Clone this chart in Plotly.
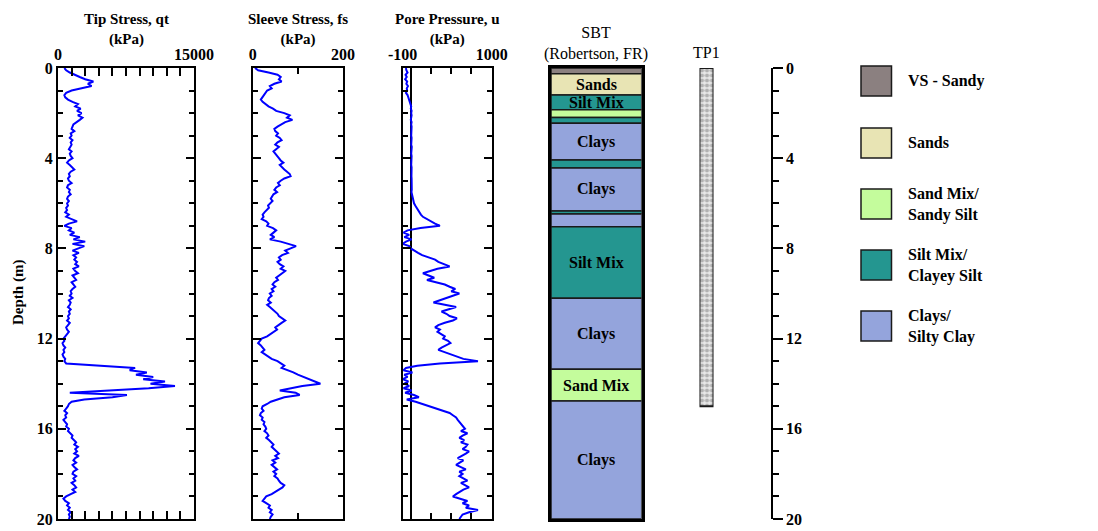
import plotly.graph_objects as go

# ---------------- data ----------------
depth = [round(i * 0.1, 1) for i in range(201)]

tip_stress = [
    700, 900, 1300, 1800, 2400, 3000, 3900, 3300, 3700, 2600,
    1500, 900, 700, 800, 1100, 1600, 2200, 1900, 2500, 2100,
    2600, 2200, 2700, 2400, 2000, 1700, 1600, 1500, 1800, 1400,
    1500, 1300, 1600, 1400, 1500, 1300, 1200, 1500, 1300, 1400,
    1600, 1200, 1000, 1300, 1500, 1800, 1400, 1200, 1300, 1100,
    1200, 1500, 1100, 1000, 1300, 1200, 1400, 1100, 1000, 1200,
    1000, 1100, 900, 1000, 800, 1200, 900, 1500, 2100, 1200,
    700, 1500, 1200, 1800, 1300, 2400, 1700, 3000, 1600, 2900,
    2200, 1600, 2300, 1700, 2000, 1800, 2100, 1900, 2300, 1700,
    1900, 2200, 1600, 1800, 2000, 1500, 1700, 1900, 1600, 1400,
    1500, 1300, 1600, 1200, 1400, 1300, 1100, 1400, 1200, 1300,
    1100, 1200, 1000, 1300, 1100, 900, 1000, 1200, 1000, 800,
    600, 700, 500, 600, 800, 600, 700, 500, 600, 800,
    700, 900, 4500, 8500, 7900, 9800, 8600, 10500, 9400, 11800,
    10200, 12900, 10000, 5200, 1300, 7600, 6000, 2900, 1500, 1200,
    1100, 900, 700, 1000, 800, 900, 600, 800, 1000, 900,
    1200, 1100, 1400, 1600, 1500, 1700, 2000, 1800, 2200, 1900,
    2100, 1800, 2300, 1900, 1700, 2000, 1600, 1800, 2100, 1700,
    1600, 2000, 1700, 1900, 1500, 1800, 2000, 1600, 1900, 1400,
    900, 600, 800, 1200, 1000, 1300, 1100, 1400, 1200, 1300,
    1200,
]

sleeve_stress = [
    5, 12, 35, 55, 62, 58, 64, 48, 38, 42,
    32, 28, 25, 20, 18, 22, 28, 35, 45, 52,
    70, 82, 76, 88, 72, 62, 55, 48, 50, 56,
    52, 60, 64, 55, 50, 58, 52, 46, 50, 55,
    58, 62, 68, 60, 64, 70, 76, 82, 84, 70,
    62, 56, 60, 52, 48, 54, 46, 42, 40, 44,
    38, 34, 36, 30, 26, 22, 24, 20, 30, 35,
    32, 45, 52, 46, 40, 48, 38, 62, 80, 96,
    84, 72, 78, 65, 58, 62, 55, 60, 68, 62,
    72, 66, 58, 52, 56, 48, 44, 50, 42, 46,
    38, 42, 36, 34, 40, 32, 38, 44, 50, 55,
    58, 66, 72, 64, 56, 50, 54, 46, 40, 32,
    20, 15, 12, 18, 22, 26, 20, 28, 35, 42,
    55, 62, 70, 64, 78, 90, 100, 112, 125, 140,
    150, 110, 82, 60, 95, 104, 70, 52, 40, 32,
    22, 20, 24, 18, 16, 22, 20, 26, 24, 28,
    30, 26, 32, 35, 30, 36, 40, 46, 42, 48,
    52, 58, 50, 56, 44, 50, 42, 48, 54, 46,
    52, 48, 55, 58, 62, 70, 66, 58, 50, 42,
    30, 26, 22, 30, 38, 35, 42, 38, 44, 40,
    38,
]

pore_pressure = [
    -60, -55, -40, -65, -50, -70, -45, -55, -35, -50,
    -45, -60, -40, -30, -20, -10, 0, 5, 0, 10,
    5, 10, 5, 0, 10, 5, 10, 8, 5, 10,
    5, 10, 8, 10, 5, 12, 8, 10, 5, 10,
    8, 10, 12, 5, 10, 8, 12, 10, 8, 10,
    12, 10, 15, 10, 12, 8, 15, 20, 25, 30,
    40, 55, 70, 90, 110, 125, 150, 200, 240, 300,
    360, 120, -40, -90, -20, -80, 10, -60, -100, -20,
    0, 40, 90, 140, 230, 300, 340, 420, 480, 330,
    250, 150, 220, 290, 200, 320, 420, 480, 550, 500,
    600, 520, 430, 350, 280, 420, 560, 470, 380, 440,
    480, 570, 520, 420, 340, 300, 360, 330, 380, 420,
    400, 460, 490, 430, 380, 340, 420, 510, 580, 650,
    830, 360, 80, -60, -90, 20, -80, -40, -100, -30,
    -80, -20, -90, 10, -70, 40, 100, -50, 60, 150,
    240, 330, 420, 480, 520, 560, 580, 600, 620, 650,
    670, 620, 700, 640, 600, 660, 620, 700, 680, 640,
    720, 680, 620, 580, 650, 600, 560, 620, 680, 600,
    640, 600, 660, 700, 620, 680, 720, 650, 600, 560,
    520, 600, 700, 640, 720, 680, 830, 720, 640, 620,
    600,
]

sbt_top = [0, 0.25, 1.2, 1.85, 2.2, 2.45, 4.08, 4.43, 6.34, 6.47, 7.04, 10.21, 13.36, 14.77]
sbt_bottom = [0.25, 1.2, 1.85, 2.2, 2.45, 4.08, 4.43, 6.34, 6.47, 7.04, 10.21, 13.36, 14.77, 20]
sbt_class = ["VS", "Sands", "SiltMix", "SandMix", "SiltMix", "Clays", "SiltMix", "Clays",
             "SiltMix", "Clays", "SiltMix", "Clays", "SandMix", "Clays"]
sbt_label = ["", "Sands", "Silt Mix", "", "", "Clays", "", "Clays", "", "", "Silt Mix",
             "Clays", "Sand Mix", "Clays"]

class_keys = ["VS", "Sands", "SandMix", "SiltMix", "Clays"]
class_names = ["VS - Sandy", "Sands", "Sand Mix/<br>Sandy Silt", "Silt Mix/<br>Clayey Silt",
               "Clays/<br>Silty Clay"]
class_colors = ["#8b8080", "#e8e4b4", "#c4fc9c", "#249690", "#94a4dc"]

tp1_top = [0]
tp1_bottom = [15.0]

# ---------------- layout helpers ----------------
W, H = 1098, 531
FONT = "Liberation Serif"


def px(x):
    return x / W


def py(y):
    return 1 - y / H


color_of = dict(zip(class_keys, class_colors))
ydom = [py(519), py(68)]

fig = go.Figure()

line_style = dict(color="#0000ff", width=2)
fig.add_trace(go.Scatter(x=tip_stress, y=depth, mode="lines", line=line_style,
                         xaxis="x", yaxis="y", showlegend=False))
fig.add_trace(go.Scatter(x=sleeve_stress, y=depth, mode="lines", line=line_style,
                         xaxis="x2", yaxis="y2", showlegend=False))
fig.add_trace(go.Scatter(x=pore_pressure, y=depth, mode="lines", line=line_style,
                         xaxis="x3", yaxis="y3", showlegend=False))

# SBT column
fig.add_trace(go.Bar(
    x=[0.5] * len(sbt_top),
    y=[b - t for t, b in zip(sbt_top, sbt_bottom)],
    base=sbt_top, width=1,
    marker=dict(color=[color_of[c] for c in sbt_class],
                line=dict(color="#1a1a1a", width=1.5)),
    xaxis="x4", yaxis="y4", showlegend=False, hoverinfo="skip"))

# TP1 column
fig.add_trace(go.Bar(
    x=[0.5], y=[b - t for t, b in zip(tp1_top, tp1_bottom)], base=tp1_top, width=1,
    marker=dict(color="white",
                pattern=dict(shape=".", fgcolor="#7a7a7a", bgcolor="#e8e8e8",
                             size=5, solidity=0.55),
                line=dict(color="#1a1a1a", width=2)),
    xaxis="x5", yaxis="y5", showlegend=False, hoverinfo="skip"))

tickfont = dict(family=FONT, size=16, color="black", weight="bold")


def xaxis_cfg(x0, x1, rng, tickvals, ticktext, minor_vals, zeroline=False):
    return dict(
        domain=[px(x0), px(x1)], range=rng, side="top", automargin=False,
        tickmode="array", tickvals=tickvals, ticktext=ticktext,
        ticks="inside", ticklen=8, tickwidth=2, tickcolor="black",
        minor=dict(tickmode="array", tickvals=minor_vals, ticks="inside",
                   ticklen=6, tickwidth=2, tickcolor="black", showgrid=False),
        showline=True, linewidth=2, linecolor="black", mirror="allticks",
        showgrid=False, zeroline=zeroline, zerolinecolor="black", zerolinewidth=2,
        tickfont=tickfont, fixedrange=True)


def yaxis_cfg(anchor, labels):
    return dict(
        domain=ydom, range=[20, 0], anchor=anchor, automargin=False,
        tickmode="linear", tick0=0, dtick=4,
        ticks="inside", ticklen=8, tickwidth=2, tickcolor="black",
        minor=dict(dtick=1, tick0=0, ticks="inside", ticklen=5, tickwidth=2,
                   tickcolor="black", showgrid=False),
        showticklabels=labels,
        showline=True, linewidth=2, linecolor="black", mirror="allticks",
        showgrid=False, zeroline=False, tickfont=tickfont, fixedrange=True)


tip_minor = [1500 * i for i in range(1, 10)]
fig.update_layout(
    width=W, height=H, margin=dict(l=0, r=0, t=0, b=0, autoexpand=False),
    paper_bgcolor="white", plot_bgcolor="white", barmode="overlay",
    font=dict(family=FONT, size=16, color="black"),
    xaxis=xaxis_cfg(58, 194, [0, 15000], [0, 15000], ["0", "15000"], tip_minor),
    xaxis2=xaxis_cfg(252.7, 343, [0, 200], [0, 200], ["0", "200"], [100]),
    xaxis3=xaxis_cfg(402.7, 491.7, [-100, 1000], [-100, 1000], ["-100", "1000"],
                     [250, 500, 750], zeroline=True),
    xaxis4=dict(domain=[px(551), px(641.7)], range=[0, 1], anchor="y4", automargin=False,
                showline=True, linewidth=2.5, linecolor="black", mirror=True,
                showticklabels=False, ticks="", showgrid=False, zeroline=False,
                fixedrange=True),
    xaxis5=dict(domain=[px(699.5), px(713.5)], range=[0, 1], anchor="y5",
                visible=False, fixedrange=True, automargin=False),
    yaxis=yaxis_cfg("x", True),
    yaxis2=yaxis_cfg("x2", False),
    yaxis3=yaxis_cfg("x3", False),
    yaxis4=dict(domain=ydom, range=[20, 0], anchor="x4", showline=True, linewidth=2.5,
                linecolor="black", mirror=True, showticklabels=False, ticks="",
                showgrid=False, zeroline=False, fixedrange=True, automargin=False),
    yaxis5=dict(domain=ydom, range=[20, 0], anchor="x5", visible=False,
                fixedrange=True, automargin=False),
    yaxis6=dict(domain=ydom, range=[20, 0], anchor="free", overlaying="y",
                position=px(771.7), side="right", automargin=False,
                tickmode="linear", tick0=0, dtick=4,
                ticks="outside", ticklen=10, tickwidth=2, tickcolor="black",
                minor=dict(dtick=1, tick0=0, ticks="outside", ticklen=6, tickwidth=2,
                           tickcolor="black", showgrid=False),
                showline=True, linewidth=2, linecolor="black",
                showgrid=False, zeroline=False, tickfont=tickfont, fixedrange=True),
)

# dummy trace to activate yaxis6
fig.add_trace(go.Scatter(x=[None], y=[None], xaxis="x", yaxis="y6", showlegend=False))

ann = []
bold_title = dict(family=FONT, size=15, color="black")
plain_title = dict(family=FONT, size=16, color="black")
for text, xc in [("Tip Stress, qt<br>(kPa)", 126), ("Sleeve Stress, fs<br>(kPa)", 298),
                 ("Pore Pressure, u<br>(kPa)", 447)]:
    ann.append(dict(text="<b>" + text.replace("<br>", "</b><br><b>") + "</b>",
                    x=px(xc), y=py(29), xref="paper",
                    yref="paper", showarrow=False, xanchor="center", yanchor="middle",
                    font=bold_title))
ann.append(dict(text="SBT<br>(Robertson, FR)", x=px(596.3), y=py(44), xref="paper",
                yref="paper", showarrow=False, xanchor="center", yanchor="middle",
                font=plain_title))
ann.append(dict(text="TP1", x=px(706.5), y=py(52), xref="paper", yref="paper",
                showarrow=False, xanchor="center", yanchor="middle", font=plain_title))
ann.append(dict(text="<b>Depth (m)</b>", x=px(18), y=py(293), xref="paper", yref="paper",
                showarrow=False, textangle=-90, xanchor="center", yanchor="middle",
                font=bold_title))

# SBT layer labels
for t, b, lab in zip(sbt_top, sbt_bottom, sbt_label):
    if lab:
        ann.append(dict(text="<b>" + lab + "</b>", x=0.5, y=(t + b) / 2, xref="x4",
                        yref="y4", showarrow=False, xanchor="center", yanchor="middle",
                        font=dict(family=FONT, size=16, color="black")))

# legend
shapes = []
leg_y = [81, 143, 204, 265, 326]
for i, (name, col) in enumerate(zip(class_names, class_colors)):
    yc = leg_y[i]
    shapes.append(dict(type="rect", xref="paper", yref="paper",
                       x0=px(861), x1=px(891.5), y0=py(yc + 15), y1=py(yc - 15),
                       fillcolor=col, line=dict(color="#1a1a1a", width=1.5)))
    ann.append(dict(text="<b>" + name.replace("<br>", "</b><br><b>") + "</b>",
                    x=px(906), y=py(yc), xref="paper",
                    yref="paper", showarrow=False, xanchor="left", yanchor="middle",
                    align="left", font=dict(family=FONT, size=16, color="black")))

fig.update_layout(annotations=ann, shapes=shapes)
fig.write_html("out.html")
